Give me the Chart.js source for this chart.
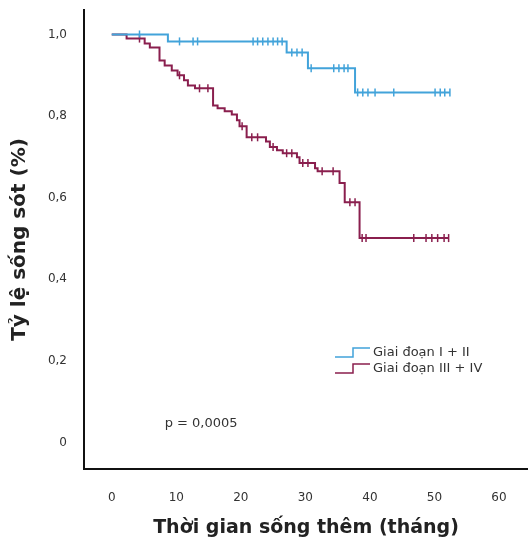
<!DOCTYPE html>
<html>
<head>
<meta charset="utf-8">
<script src="https://cdn.jsdelivr.net/npm/chart.js@4.4.1/dist/chart.umd.min.js"></script>
<style>
  html, body { margin: 0; padding: 0; background: #fff; }
  #wrap { width: 528px; height: 545px; }
</style>
</head>
<body>
<div id="wrap"><canvas id="kmChart" width="528" height="545"></canvas></div>
<script>
// Kaplan-Meier steps (months, survival after the drop)
const blueTimes = [0, 8.7, 27.1, 30.4, 37.7, 52.4];
const blueSurv = [1.0, 0.983, 0.956, 0.917, 0.858, 0.858];
const blueCensored = [4.3, 10.5, 12.6, 13.3, 21.9, 22.6, 23.4, 24.2, 25.0, 25.7, 26.4,
  27.9, 28.7, 29.5, 30.9, 34.4, 35.2, 36.0, 36.6, 38.1, 38.9, 39.7, 40.8, 43.7,
  50.1, 50.9, 51.6, 52.4];

const redTimes = [0, 2.3, 5.1, 5.9, 7.4, 8.2, 9.3, 10.2, 11.2, 11.8, 12.9, 15.7, 16.4,
  17.5, 18.6, 19.4, 19.8, 20.9, 23.9, 24.5, 25.6, 26.5, 28.7, 29.1, 31.5, 31.9,
  35.3, 36.1, 38.4, 52.2];
const redSurv = [1.0, 0.990, 0.978, 0.968, 0.936, 0.924, 0.912, 0.900, 0.888, 0.875,
  0.868, 0.826, 0.819, 0.812, 0.804, 0.790, 0.775, 0.748, 0.738, 0.724, 0.716,
  0.709, 0.699, 0.685, 0.672, 0.665, 0.636, 0.589, 0.501, 0.501];
const redCensored = [4.3, 10.5, 13.6, 14.9, 20.2, 21.7, 22.6, 25.0, 27.1, 27.9, 29.6,
  30.4, 32.6, 34.3, 36.9, 37.7, 38.8, 39.4, 46.8, 48.7, 49.6, 50.5, 51.5, 52.2];

const xTicks = [0, 10, 20, 30, 40, 50, 60];
const yTicks = [0, 0.2, 0.4, 0.6, 0.8, 1.0];
const yTickLabels = ["0", "0,2", "0,4", "0,6", "0,8", "1,0"];

const seriesNames = ["Giai đoạn I + II", "Giai đoạn III + IV"];
const pText = "p = 0,0005";

const BLUE = "#42a3da";
const RED = "#8a1f4e";
const FONT = "'DejaVu Sans', sans-serif";

function stepPoints(times, surv) {
  return times.map((t, i) => ({ x: t, y: surv[i] }));
}

// survival level at a censoring time = last step at or before it
function censorPoints(times, surv, cens) {
  return cens.map(t => {
    let lvl = surv[0];
    for (let i = 0; i < times.length; i++) {
      if (times[i] <= t) lvl = surv[i];
    }
    return { x: t, y: lvl };
  });
}

// legend + p value drawn inside the plot
const annotations = {
  id: "annotations",
  afterDatasetsDraw(chart) {
    const ctx = chart.ctx;
    const xs = chart.scales.x, ys = chart.scales.y;
    ctx.save();
    ctx.font = "13px " + FONT;
    ctx.fillStyle = "#333";
    ctx.textBaseline = "middle";
    ctx.textAlign = "left";
    ctx.fillText(pText, xs.getPixelForValue(8.2), ys.getPixelForValue(0.046));

    const colors = [BLUE, RED];
    const x0 = 335, rows = [353, 369];
    rows.forEach((y, i) => {
      ctx.strokeStyle = colors[i];
      ctx.lineWidth = 1.5;
      ctx.beginPath();
      ctx.moveTo(x0, y + 4);
      ctx.lineTo(x0 + 18, y + 4);
      ctx.lineTo(x0 + 18, y - 5);
      ctx.lineTo(x0 + 35, y - 5);
      ctx.stroke();
      ctx.fillStyle = "#333";
      ctx.fillText(seriesNames[i], x0 + 38, y);
    });
    ctx.restore();
  }
};

const ctx = document.getElementById("kmChart").getContext("2d");
new Chart(ctx, {
  type: "line",
  data: {
    datasets: [
      {
        label: seriesNames[0],
        data: stepPoints(blueTimes, blueSurv),
        borderColor: BLUE,
        borderWidth: 2,
        stepped: true,
        pointRadius: 0,
        fill: false,
      },
      {
        label: seriesNames[1],
        data: stepPoints(redTimes, redSurv),
        borderColor: RED,
        borderWidth: 2,
        stepped: true,
        pointRadius: 0,
        fill: false,
      },
      {
        label: "censored 1",
        data: censorPoints(blueTimes, blueSurv, blueCensored),
        showLine: false,
        pointStyle: "line",
        rotation: 90,
        pointRadius: 4,
        pointBorderWidth: 1.5,
        pointBorderColor: BLUE,
        borderColor: BLUE,
      },
      {
        label: "censored 2",
        data: censorPoints(redTimes, redSurv, redCensored),
        showLine: false,
        pointStyle: "line",
        rotation: 90,
        pointRadius: 4,
        pointBorderWidth: 1.5,
        pointBorderColor: RED,
        borderColor: RED,
      },
    ],
  },
  options: {
    responsive: false,
    animation: false,
    layout: { autoPadding: false, padding: { top: 10, right: 0, left: 0, bottom: 0 } },
    plugins: {
      legend: { display: false },
      tooltip: { enabled: false },
    },
    scales: {
      x: {
        type: "linear",
        min: -4.3,
        max: 64.5,
        grid: { display: false, drawTicks: false },
        border: { display: true, color: "#111", width: 2 },
        afterBuildTicks: (scale) => {
          scale.ticks = xTicks.map(v => ({ value: v }));
        },
        afterFit: (scale) => {
          scale.height = 76;
          scale.paddingLeft = 0;
          scale.paddingRight = 0;
        },
        ticks: {
          padding: 22,
          color: "#333",
          font: { family: FONT, size: 12 },
        },
        title: {
          display: true,
          text: "Thời gian sống thêm (tháng)",
          color: "#222",
          font: { family: FONT, size: 19, weight: "bold" },
          padding: { top: 0, bottom: 6 },
        },
      },
      y: {
        type: "linear",
        min: -0.065,
        max: 1.06,
        grid: { display: false, drawTicks: false },
        border: { display: true, color: "#111", width: 2 },
        afterBuildTicks: (scale) => {
          scale.ticks = yTicks.map(v => ({ value: v }));
        },
        afterFit: (scale) => {
          scale.width = 84;
          scale.paddingTop = 0;
          scale.paddingBottom = 0;
        },
        ticks: {
          padding: 17,
          color: "#333",
          font: { family: FONT, size: 12 },
          callback: (value, index) => yTickLabels[index],
        },
        title: {
          display: true,
          text: "Tỷ lệ sống sót (%)",
          color: "#222",
          font: { family: FONT, size: 20, weight: "bold" },
          padding: { top: 8, bottom: 0 },
        },
      },
    },
  },
  plugins: [annotations],
});
</script>
</body>
</html>
